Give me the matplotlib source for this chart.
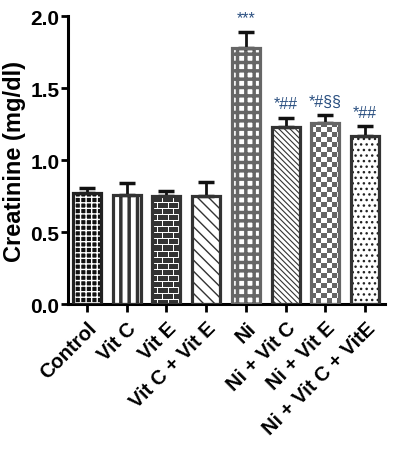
import numpy as np
import matplotlib
matplotlib.use("Agg")
import matplotlib.pyplot as plt

plt.rcParams['font.family'] = ['Liberation Sans', 'DejaVu Sans']

groups = ["Control", "Vit C", "Vit E", "Vit C + Vit E", "Ni",
          "Ni + Vit C", "Ni + Vit E", "Ni + Vit C + VitE"]
means = [0.77, 0.76, 0.75, 0.75, 1.78, 1.23, 1.26, 1.17]
sems = [0.035, 0.08, 0.035, 0.10, 0.11, 0.065, 0.055, 0.065]
marks = ["", "", "", "", "***", "*##", "*#§§", "*##"]

# fill style per bar: (face, hatch, hatch colour, hatch width, outline)
styles = [
    ("#111111", "+++", "white", 1.0, "#222222"),
    ("white", "||", "#333333", 2.5, "#333333"),
    ("brick", None, None, None, "#333333"),
    ("white", "\\\\\\", "#333333", 1.0, "#333333"),
    ("white", "++", "#666666", 2.5, "#666666"),
    ("white", "\\\\\\\\\\\\", "#333333", 0.8, "#333333"),
    ("checker", None, None, None, "#666666"),
    ("white", "...", "#222222", 1.0, "#333333"),
]

fig = plt.figure(figsize=(3.99, 4.52), dpi=100)
ax = fig.add_axes([0.170, 0.325, 0.795, 0.637])
ax.set_xlim(-0.48, 7.5)
ax.set_ylim(0, 2.0)

x = np.arange(len(groups))
width = 0.73


def texture(kind, wpx, hpx):
    yy, xx = np.mgrid[0:hpx, 0:wpx]
    if kind == "checker":
        c = 5
        img = ((xx // c + yy // c) % 2).astype(float)
        rgb = np.where(img[..., None] > 0, [1, 1, 1], [0.4, 0.4, 0.4])
    else:
        row = yy // 6
        off = np.where(row % 2 == 0, 0, 5)
        mortar = (yy % 6 == 0) | ((xx + off) % 10 == 0)
        rgb = np.where(mortar[..., None], [1, 1, 1], [0.2, 0.2, 0.2])
    return rgb


for i, (face, hatch, hcol, hlw, edge) in enumerate(styles):
    if face in ("brick", "checker"):
        bar = ax.bar(x[i], means[i], width, color="white", linewidth=0)[0]
        x0, x1 = x[i] - width / 2, x[i] + width / 2
        p0 = ax.transData.transform((x0, 0))
        p1 = ax.transData.transform((x1, means[i]))
        img = texture(face, int(p1[0] - p0[0]), int(p1[1] - p0[1]))
        im = ax.imshow(img, extent=(x0, x1, 0, means[i]), aspect="auto",
                       interpolation="nearest", zorder=2)
        im.set_clip_path(bar)
    else:
        bar = ax.bar(x[i], means[i], width, color=face, edgecolor=hcol,
                     hatch=hatch, linewidth=0)[0]
        if hasattr(bar, "set_hatch_linewidth"):
            bar.set_hatch_linewidth(hlw)
    ax.errorbar(x[i], means[i], yerr=[[0], [sems[i]]], fmt="none",
                ecolor="#111111", elinewidth=2, capsize=6, capthick=2.5,
                zorder=1)
    ax.bar(x[i], means[i], width * 0.97, fill=False, edgecolor=edge,
           linewidth=2.3, zorder=3)
    if marks[i]:
        ax.annotate(marks[i], (x[i], means[i] + sems[i]), xytext=(0, 10),
                    textcoords="offset points", ha="center", va="center",
                    fontsize=11.5, color="#2a4f80")

ax.set_aspect("auto")
ax.set_xlim(-0.48, 7.5)
ax.set_ylim(0, 2.0)

for s in ["top", "right"]:
    ax.spines[s].set_visible(False)
for s in ["left", "bottom"]:
    ax.spines[s].set_linewidth(2.2)
    ax.spines[s].set_color("black")

ax.set_yticks([0.0, 0.5, 1.0, 1.5, 2.0])
ax.set_yticklabels(["0.0", "0.5", "1.0", "1.5", "2.0"], fontsize=15,
                   fontweight="bold")
ax.set_xticks(x)
ax.set_xticklabels(groups, rotation=45, ha="right", rotation_mode="anchor",
                   fontsize=14.5, fontweight="bold")
ax.tick_params(axis="y", length=5, width=2, pad=1)
ax.tick_params(axis="x", length=6, width=2, pad=4)
ax.set_ylabel("Creatinine (mg/dl)", fontsize=17, fontweight="bold", labelpad=3)

fig.savefig("out.png", dpi=100)
